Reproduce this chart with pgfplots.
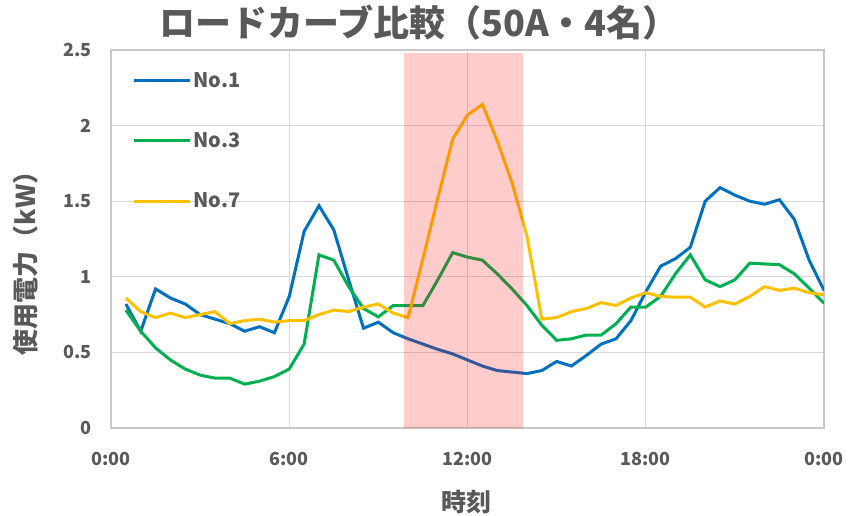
\documentclass[border=0pt]{standalone}
\usepackage{fontspec}
\setmainfont{Noto Sans CJK JP}
\usepackage{pgfplots}
\pgfplotsset{compat=1.18}
\definecolor{c1}{RGB}{0,112,192}
\definecolor{c3}{RGB}{0,176,80}
\definecolor{c7}{RGB}{255,192,0}
\definecolor{txt}{RGB}{89,89,89}
\definecolor{gridc}{RGB}{217,217,217}
\definecolor{framec}{RGB}{200,200,200}
\pgfplotstableread{
x no1 no3 no7
0.5 0.82 0.78 0.86
1.0 0.64 0.64 0.77
1.5 0.92 0.53 0.73
2.0 0.86 0.45 0.76
2.5 0.82 0.39 0.73
3.0 0.75 0.35 0.75
3.5 0.72 0.33 0.77
4.0 0.69 0.33 0.69
4.5 0.64 0.29 0.71
5.0 0.67 0.31 0.72
5.5 0.63 0.34 0.70
6.0 0.87 0.39 0.71
6.5 1.30 0.555 0.71
7.0 1.47 1.145 0.75
7.5 1.31 1.11 0.78
8.0 0.98 0.935 0.77
8.5 0.66 0.79 0.80
9.0 0.70 0.735 0.82
9.5 0.63 0.81 0.76
10.0 0.59 0.81 0.73
10.5 0.555 0.81 1.12
11.0 0.52 0.98 1.52
11.5 0.49 1.16 1.91
12.0 0.45 1.13 2.07
12.5 0.41 1.11 2.14
13.0 0.38 1.02 1.90
13.5 0.37 0.92 1.62
14.0 0.36 0.81 1.27
14.5 0.38 0.68 0.72
15.0 0.44 0.58 0.73
15.5 0.41 0.59 0.77
16.0 0.48 0.615 0.79
16.5 0.555 0.615 0.83
17.0 0.59 0.69 0.81
17.5 0.71 0.80 0.86
18.0 0.90 0.80 0.895
18.5 1.07 0.87 0.87
19.0 1.12 1.02 0.865
19.5 1.195 1.145 0.865
20.0 1.50 0.98 0.80
20.5 1.59 0.935 0.84
21.0 1.54 0.98 0.82
21.5 1.50 1.09 0.87
22.0 1.48 1.085 0.935
22.5 1.51 1.08 0.91
23.0 1.38 1.02 0.925
23.5 1.11 0.925 0.895
24.0 0.91 0.825 0.88
}\loadcurve
\begin{document}
\begin{tikzpicture}
\useasboundingbox (0,0) rectangle (848pt,515pt);
\begin{axis}[
  at={(111pt,87pt)}, anchor=south west,
  scale only axis, width=713pt, height=378pt,
  xmin=0, xmax=24, ymin=0, ymax=2.5,
  xtick={0,6,12,18,24}, xticklabels={0:00,6:00,12:00,18:00,0:00},
  ytick={0,0.5,1,1.5,2,2.5}, yticklabels={0,0.5,1,1.5,2,2.5},
  major tick length=0pt,
  grid=major, grid style={gridc, line width=1.3pt},
  axis line style={framec, line width=1.3pt},
  tick label style={font=\fontsize{18}{20}\selectfont\bfseries, text=txt},
  yticklabel style={xshift=-16pt},
  xticklabel style={yshift=-21pt},
  /pgf/number format/assume math mode=true,
  legend style={at={(0,1)}, anchor=north west, xshift=18pt, yshift=-18pt,
    draw=none, fill=none, font=\fontsize{20}{24}\selectfont\bfseries, text=txt,
    row sep=40pt},
  legend cell align=left,
  legend image code/.code={\draw[#1] (0pt,0pt) -- (56pt,0pt);},
]
\addplot[c1, line width=3pt] table[x=x, y=no1] {\loadcurve};
\addlegendentry{No.1}
\addplot[c3, line width=3pt] table[x=x, y=no3] {\loadcurve};
\addlegendentry{No.3}
\addplot[c7, line width=3pt] table[x=x, y=no7] {\loadcurve};
\addlegendentry{No.7}
\addplot[forget plot, draw=none, fill=red, fill opacity=0.2] coordinates {(9.87,0) (9.87,2.48) (13.87,2.48) (13.87,0)} \closedcycle;
\end{axis}
\node[font=\fontsize{36}{40}\selectfont\bfseries, text=txt] at (419pt,492pt) {ロードカーブ比較（50A・4名）};
\node[font=\fontsize{26}{30}\selectfont\bfseries, text=txt, rotate=90] at (26pt,258pt) {使用電力（kW）};
\node[font=\fontsize{25}{30}\selectfont\bfseries, text=txt] at (466pt,13pt) {時刻};
\end{tikzpicture}
\end{document}
